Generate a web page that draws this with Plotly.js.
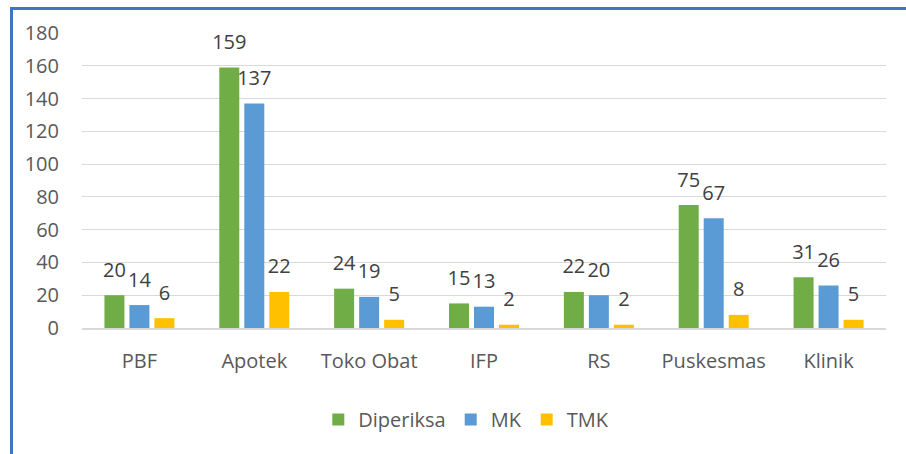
<!DOCTYPE html>
<html><head><meta charset="utf-8">
<script src="https://cdn.plot.ly/plotly-3.0.1.min.js"></script>
<style>
html,body{margin:0;padding:0;background:#fff;}
#chart{position:absolute;left:0;top:0;width:906px;height:454px;}
#frame{position:absolute;left:10px;top:7px;width:900px;height:460px;border-left:3px solid #4472C4;border-top:3px solid #4472C4;pointer-events:none;}
</style></head>
<body>
<div id="chart"></div><div id="frame"></div>
<script>
const categories = ["PBF","Apotek","Toko Obat","IFP","RS","Puskesmas","Klinik"];
const diperiksa = [20,159,24,15,22,75,31];
const mk = [14,137,19,13,20,67,26];
const tmk = [6,22,5,2,2,8,5];
const yTicks = [0,20,40,60,80,100,120,140,160,180];

const font = "'Open Sans', sans-serif";
const series = [['Diperiksa', diperiksa, '#70AD47'], ['MK', mk, '#5B9BD5'], ['TMK', tmk, '#FFC000']];
const data = [];
series.forEach(([name, vals, color], i) => {
  data.push({type:'bar', name:name, x:categories, y:vals, marker:{color:color},
    offsetgroup:'g'+i, hoverinfo:'skip'});
});
series.forEach(([name, vals, color], i) => {
  data.push({type:'scatter', mode:'markers+text', name:name+' label', x:categories, y:vals,
    offsetgroup:'g'+i, showlegend:false, cliponaxis:false,
    marker:{size:20, opacity:0, color:color},
    text:vals.map(String), textposition:'top center',
    textfont:{family:font, size:20, color:'#404040'}, hoverinfo:'skip'});
});
const layout = {
  width:906, height:454,
  margin:{l:82, r:20, t:33, b:126},
  paper_bgcolor:'#fff', plot_bgcolor:'#fff',
  barmode:'group', bargap:0.347, bargroupgap:0.2,
  scattermode:'group', scattergap:0.347,
  font:{family:font, color:'#595959', size:20},
  xaxis:{tickfont:{size:20, color:'#595959'}, showline:true, linecolor:'#d9d9d9', linewidth:1.5, ticks:'', showgrid:false, ticklabelstandoff:14},
  yaxis:{range:[0,180], tickvals:yTicks, ticktext:yTicks.map(String), gridcolor:'#d9d9d9', gridwidth:1.2, zeroline:false, showline:false, ticks:'', tickfont:{size:20, color:'#595959'}, ticklabelstandoff:22},
  showlegend:true,
  legend:{orientation:'h', x:0.478, xanchor:'center', y:-0.31, yanchor:'middle', font:{size:20, color:'#595959'}, itemwidth:30, traceorder:'normal'},
};
Plotly.newPlot('chart', data, layout, {displayModeBar:false, staticPlot:true});
</script>
</body></html>
